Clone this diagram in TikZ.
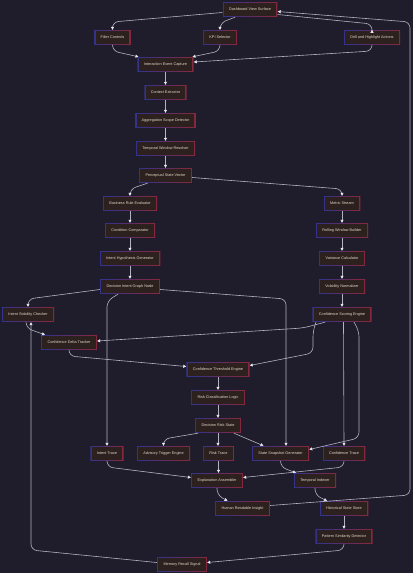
\documentclass[tikz,border=0pt]{standalone}
\usepackage{fontspec}
\setmainfont{Liberation Sans}
\usetikzlibrary{arrows.meta,calc}
\definecolor{bg}{HTML}{1F1D2B}
\definecolor{nodefill}{HTML}{2C211F}
\definecolor{bdb}{HTML}{34338A}
\definecolor{bdr}{HTML}{84283F}
\definecolor{txt}{HTML}{E2D8C6}
\definecolor{ln}{HTML}{B4B3C2}
\definecolor{tipc}{HTML}{E8E8F0}
\begin{document}
\begin{tikzpicture}[x=1pt,y=-1pt,
  box/.style={rectangle, minimum height=15pt, inner xsep=6.5pt, inner ysep=0pt, text=txt,
    font=\fontsize{3.8}{4.5}\selectfont,
    path picture={
      \coordinate (sw) at (path picture bounding box.south west);
      \coordinate (ne) at (path picture bounding box.north east);
      \foreach \i in {0,...,9}{
        \pgfmathsetmacro\pc{\i*100/9}
        \pgfmathsetmacro\ia{\i/10}
        \pgfmathsetmacro\ib{(\i+1.1)/10}
        \fill[bdr!\pc!bdb] ($(sw)!\ia!(sw-|ne)$) rectangle ($(sw|-ne)!\ib!(ne)$);
      }
      \fill[nodefill] ([shift={(1.4pt,1.4pt)}]sw) rectangle ([shift={(-1.4pt,-1.4pt)}]ne);}},
  edge/.style={draw=ln, line width=0.6pt, rounded corners=6pt, -{Triangle[length=3pt,width=3pt,color=tipc]}}]
\useasboundingbox[fill=bg] (0,0) rectangle (413,573);

\node[box] (dvs) at (250,9.5) {Dashboard View Surface};
\node[box] (fc) at (112.5,37.5) {Filter Controls};
\node[box] (kpi) at (220,37.5) {KPI Selector};
\node[box] (drill) at (372,37.5) {Drill and Highlight Actions};
\node[box] (iec) at (165.5,64.5) {Interaction Event Capture};
\node[box] (ce) at (165.5,92.5) {Context Extractor};
\node[box] (asd) at (165.5,120.5) {Aggregation Scope Detector};
\node[box] (twr) at (165.5,148.5) {Temporal Window Resolver};
\node[box] (psv) at (165.5,175.5) {Perceptual State Vector};
\node[box] (bre) at (130,203.5) {Business Rule Evaluator};
\node[box] (ms) at (342,203.5) {Metric Stream};
\node[box] (cc) at (130,230.5) {Condition Comparator};
\node[box] (rwb) at (342,230.5) {Rolling Window Builder};
\node[box] (ihg) at (130,258.5) {Intent Hypothesis Generator};
\node[box] (vc) at (342,258.5) {Variance Calculator};
\node[box] (dign) at (130,286.5) {Decision Intent Graph Node};
\node[box] (vn) at (342,286.5) {Volatility Normalizer};
\node[box] (isc) at (28,314.5) {Intent Stability Checker};
\node[box] (cse) at (342,314.5) {Confidence Scoring Engine};
\node[box] (cdt) at (69,342.5) {Confidence Delta Tracker};
\node[box] (cte) at (218,369.5) {Confidence Threshold Engine};
\node[box] (rcl) at (218,397.5) {Risk Classification Logic};
\node[box] (drs) at (218,425.5) {Decision Risk State};
\node[box] (it) at (107,453.5) {Intent Trace};
\node[box] (ate) at (163.5,453.5) {Advisory Trigger Engine};
\node[box] (rt) at (218.5,453.5) {Risk Trace};
\node[box] (ssg) at (280.5,453.5) {State Snapshot Generator};
\node[box] (ct) at (344,453.5) {Confidence Trace};
\node[box] (ea) at (217,480.5) {Explanation Assembler};
\node[box] (ti) at (315,480.5) {Temporal Indexer};
\node[box] (hri) at (242.5,508.5) {Human Readable Insight};
\node[box] (hss) at (344,508.5) {Historical State Store};
\node[box] (psd) at (344,536.5) {Pattern Similarity Detector};
\node[box] (mrs) at (182,564.5) {Memory Recall Signal};

% top fan-out
\draw[edge] ([yshift=-3pt]dvs.west) -- (fc.north |- 0,22) -- (fc.north);
\draw[edge] ([xshift=-15pt]dvs.south) -- (kpi.north |- 0,23) -- (kpi.north);
\draw[edge] ([yshift=-5pt]dvs.east) -- (drill.north |- 0,24) -- (drill.north);
% fan-in
\draw[edge] (fc.south) -- (fc.south |- 0,51) -- ([xshift=-27pt]iec.north);
\draw[edge] (kpi.south) -- (kpi.south |- 0,51) -- ([xshift=27pt]iec.north);
\draw[edge] (drill.south) -- (drill.south |- 0,51) -- ([yshift=2.5pt]iec.east);
% main chain
\draw[edge] (iec) -- (ce);
\draw[edge] (ce) -- (asd);
\draw[edge] (asd) -- (twr);
\draw[edge] (twr) -- (psv);
\draw[edge] ([xshift=-18pt]psv.south) -- (bre.north |- 0,189) -- (bre.north);
\draw[edge] ([yshift=-2pt]psv.east) -- (ms.north |- 0,189) -- (ms.north);
\draw[edge] (bre) -- (cc);
\draw[edge] (cc) -- (ihg);
\draw[edge] (ihg) -- (dign);
\draw[edge] (ms) -- (rwb);
\draw[edge] (rwb) -- (vc);
\draw[edge] (vc) -- (vn);
\draw[edge] (vn) -- (cse);
% from decision intent graph node
\draw[edge] ([yshift=-3pt]dign.west) -- (isc.north |- 0,299) -- (isc.north);
\draw[edge] ([xshift=-12pt]dign.south) -- (it.north |- 0,301) -- (it.north);
\draw[edge] ([yshift=-3pt]dign.east) -- ([xshift=5.5pt]ssg.north |- 0,299) -- ([xshift=5.5pt]ssg.north);
% confidence side
\draw[edge] ([xshift=-2pt]isc.south) -- ([xshift=-2pt]isc.south |- 0,328) -- ([xshift=-24pt]cdt.north);
\draw[edge] ([yshift=2pt]mrs.west) -- ([xshift=3pt]isc.south |- 0,550) -- ([xshift=3pt]isc.south);
\draw[edge] ([xshift=-17pt]cse.south) -- (303,328) -- ([yshift=1.5pt]cdt.east);
\draw[edge] ([xshift=-26pt]cse.south) -- (313,331) -- (313,353) -- ([yshift=4pt]cte.west -| cte.east);
\draw[edge] (cdt.south) -- (cdt.south |- 0,356) -- ([yshift=3pt]cte.west);
\draw[edge] ([xshift=1.5pt]cse.south) -- (ct.north);
\draw[edge] ([xshift=12pt]cse.south) -- (359,331) -- (359,438) -- ([yshift=4pt]ssg.east);
% risk chain
\draw[edge] (cte) -- (rcl);
\draw[edge] (rcl) -- (drs);
\draw[edge] ([xshift=-20pt]drs.south) -- (ate.north |- 0,439) -- (ate.north);
\draw[edge] (drs.south) -- (drs.south |- rt.north);
\draw[edge] ([xshift=16pt]drs.south) -- ([xshift=-17pt]ssg.north);
% traces to explanation
\draw[edge] (it.south) -- (it.south |- 0,467) -- ([yshift=3pt]ea.west);
\draw[edge] (rt.south) -- (rt.south |- ea.north);
\draw[edge] (ct.south) -- (ct.south |- 0,467) -- ([yshift=3pt]ea.east);
\draw[edge] (ssg.south) -- (ssg.south |- 0,467) -- ([xshift=-19pt]ti.north);
\draw[edge] (ea.south) -- (ea.south |- 0,495) -- ([xshift=-15pt]hri.north);
\draw[edge] (ti.south) -- (ti.south |- 0,495) -- ([xshift=-17pt]hss.north);
\draw[edge] ([yshift=3pt]hri.east) -- (410,495) -- (410,22) -- ([yshift=-2pt]dvs.east);
\draw[edge] (hss) -- (psd);
\draw[edge] (psd.south) -- (psd.south |- 0,550) -- ([yshift=2pt]mrs.east);
\end{tikzpicture}
\end{document}
